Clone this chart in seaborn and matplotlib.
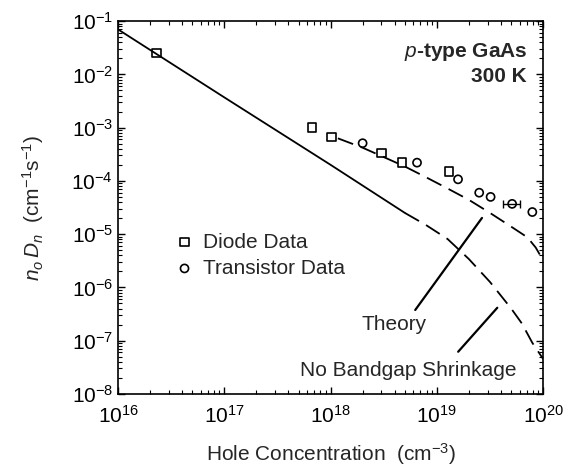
import matplotlib
matplotlib.use("Agg")
import matplotlib.pyplot as plt
from matplotlib.ticker import LogLocator, NullFormatter
import seaborn as sns
import numpy as np
import pandas as pd

# hole concentration (cm^-3) and n_o D_n (cm^-1 s^-1)
diode_p = [2.3e16, 6.7e17, 1.02e18, 3.0e18, 4.7e18, 1.3e19]
diode_nd = [2.5e-2, 1.0e-3, 6.6e-4, 3.3e-4, 2.2e-4, 1.5e-4]

trans_p = [2.0e18, 6.5e18, 1.58e19, 2.5e19, 3.2e19, 5.1e19, 7.9e19]
trans_nd = [5.1e-4, 2.2e-4, 1.07e-4, 6.0e-5, 5.0e-5, 3.7e-5, 2.6e-5]
trans_xerr = [0, 0, 0, 0, 0, 0.9e19, 0]

# theory curve (upper dashed)
theory_p = [1.17e18, 2.0e18, 3.16e18, 5.0e18, 7.9e18, 1.26e19, 2.0e19,
            3.16e19, 5.0e19, 7.1e19, 8.5e19, 1.0e20]
theory_nd = [6.3e-4, 4.2e-4, 2.8e-4, 1.86e-4, 1.17e-4, 7.2e-5, 4.4e-5,
             2.5e-5, 1.38e-5, 8.7e-6, 5.6e-6, 3.2e-6]

# no bandgap shrinkage: solid part then dashed part
nbs_solid_p = [1.0e16, 1.0e17, 1.0e18, 5.0e18]
nbs_solid_nd = [7.0e-2, 3.7e-3, 2.0e-4, 2.5e-5]
nbs_dash_p = [5.0e18, 7.9e18, 1.26e19, 2.0e19, 3.16e19, 5.0e19, 6.3e19,
              7.9e19, 1.0e20]
nbs_dash_nd = [2.5e-5, 1.48e-5, 8.1e-6, 3.4e-6, 1.26e-6, 4.0e-7, 2.1e-7,
               9.1e-8, 4.5e-8]

sns.set_theme(style="ticks")
plt.rcParams["font.family"] = ["Liberation Sans", "DejaVu Sans"]
plt.rcParams["mathtext.fontset"] = "custom"
plt.rcParams["mathtext.rm"] = "Liberation Sans"
plt.rcParams["mathtext.it"] = "Liberation Sans:italic"
plt.rcParams["mathtext.bf"] = "Liberation Sans:bold"

fig = plt.figure(figsize=(5.73, 4.70), dpi=100)
ax = fig.add_axes([0.206, 0.162, 0.742, 0.793])

dash = (0, (9, 4.5))
sns.lineplot(data=pd.DataFrame({"p": nbs_solid_p, "nd": nbs_solid_nd}),
             x="p", y="nd", ax=ax, color="black", lw=1.3)
sns.lineplot(data=pd.DataFrame({"p": nbs_dash_p, "nd": nbs_dash_nd}),
             x="p", y="nd", ax=ax, color="black", lw=1.3, linestyle=dash)
sns.lineplot(data=pd.DataFrame({"p": theory_p, "nd": theory_nd}),
             x="p", y="nd", ax=ax, color="black", lw=1.3, linestyle=dash)

# horizontal error bar only where one was drawn
err = [(p, n, e) for p, n, e in zip(trans_p, trans_nd, trans_xerr) if e > 0]
ax.errorbar([e[0] for e in err], [e[1] for e in err], xerr=[e[2] for e in err],
            fmt="none", ecolor="black", elinewidth=1.0, capsize=3)

sns.scatterplot(x=diode_p, y=diode_nd, ax=ax, marker="s", s=36, fc="none",
                ec="black", linewidth=1.2, label="Diode Data", zorder=3)
sns.scatterplot(x=trans_p, y=trans_nd, ax=ax, marker="o", s=34, fc="none",
                ec="black", linewidth=1.2, label="Transistor Data", zorder=3)

ax.set_xscale("log")
ax.set_yscale("log")
ax.set_xlim(1e16, 1e20)
ax.set_ylim(1e-8, 1e-1)
ax.set_xticks([1e16, 1e17, 1e18, 1e19, 1e20])
ax.set_yticks([10.0 ** k for k in range(-8, 0)])
ax.xaxis.set_minor_locator(LogLocator(base=10, subs=np.arange(2, 10), numticks=100))
ax.yaxis.set_minor_locator(LogLocator(base=10, subs=np.arange(2, 10), numticks=100))
ax.xaxis.set_minor_formatter(NullFormatter())
ax.yaxis.set_minor_formatter(NullFormatter())
ax.tick_params(which="both", direction="in", top=True, right=True,
               labelsize=15, colors="black")
ax.tick_params(which="major", length=5, width=1)
ax.tick_params(which="minor", length=3, width=0.8)
ax.tick_params(axis="x", which="major", pad=8)
for sp in ax.spines.values():
    sp.set_linewidth(1.2)
    sp.set_color("black")

ax.set_xlabel(r"Hole Concentration  (cm$^{-3}$)", fontsize=15, labelpad=10)
ax.set_ylabel(r"$n_o\,D_n$  (cm$^{-1}$s$^{-1}$)", fontsize=15, labelpad=18)

ax.text(0.962, 0.917, r"$\mathbf{\it{p}}$-type GaAs", transform=ax.transAxes,
        ha="right", va="center", fontsize=15, fontweight="bold")
ax.text(0.962, 0.852, "300 K", transform=ax.transAxes,
        ha="right", va="center", fontsize=15, fontweight="bold")

ax.legend(loc="upper left", bbox_to_anchor=(0.1, 0.455), frameon=False,
          fontsize=15, handletextpad=0.15, labelspacing=0.35, handlelength=1.5,
          borderaxespad=0)

ax.text(0.649, 0.185, "Theory", transform=ax.transAxes,
        ha="center", va="center", fontsize=15)
ax.text(0.683, 0.064, "No Bandgap Shrinkage", transform=ax.transAxes,
        ha="center", va="center", fontsize=15)
ax.annotate("", xy=(0.856, 0.472), xytext=(0.699, 0.225),
            xycoords="axes fraction", textcoords="axes fraction",
            arrowprops=dict(arrowstyle="-", color="black", lw=1.6,
                            shrinkA=0, shrinkB=0))
ax.annotate("", xy=(0.892, 0.231), xytext=(0.800, 0.113),
            xycoords="axes fraction", textcoords="axes fraction",
            arrowprops=dict(arrowstyle="-", color="black", lw=1.6,
                            shrinkA=0, shrinkB=0))

fig.savefig("out.png", dpi=100)
